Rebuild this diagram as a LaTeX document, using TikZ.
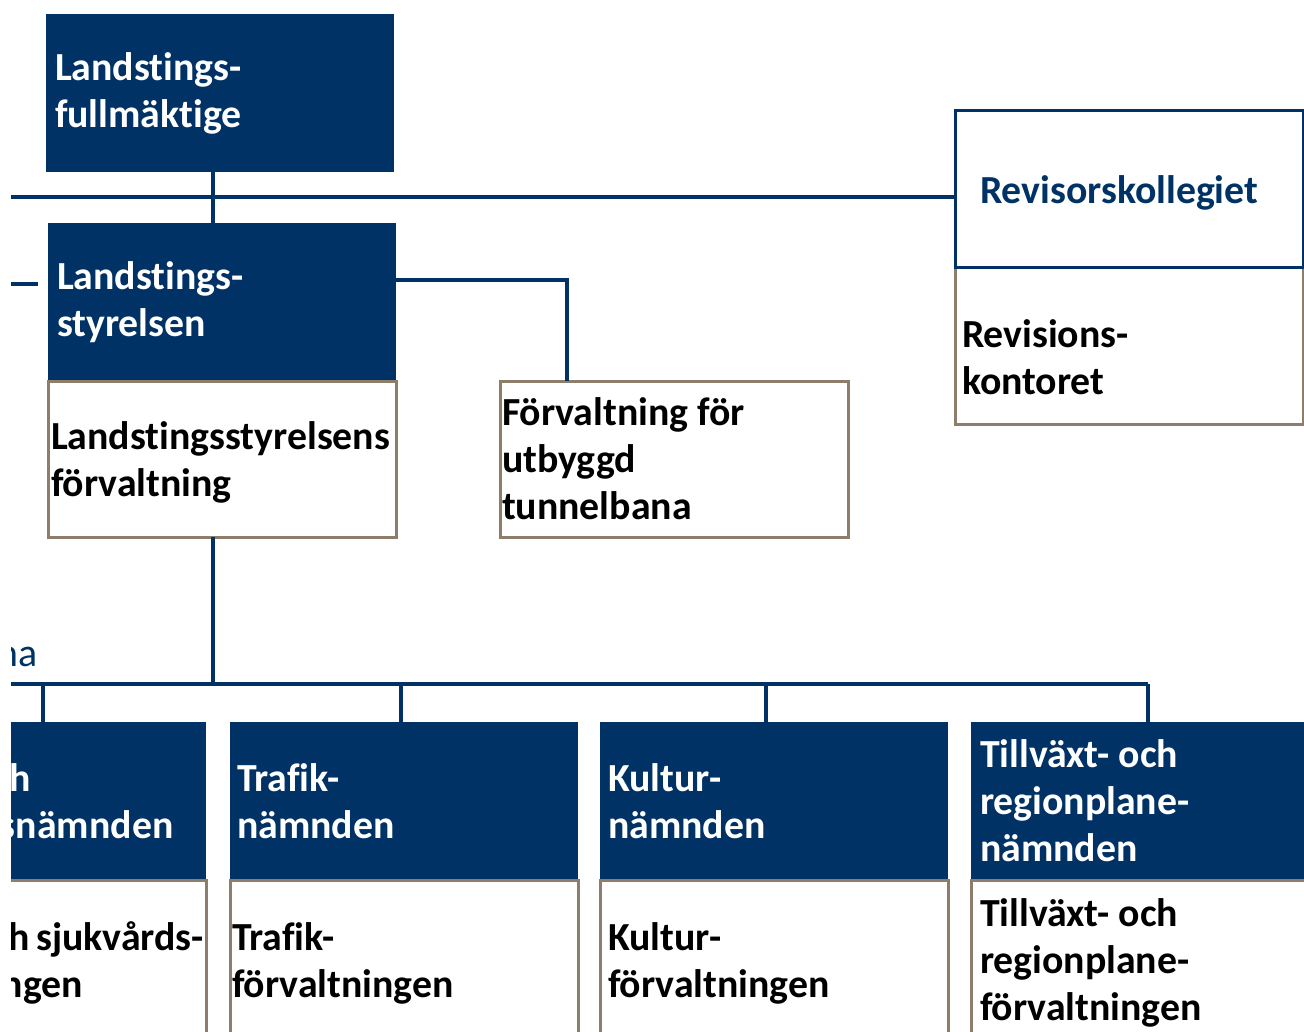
\documentclass[tikz,border=0pt]{standalone}
\usepackage{fontspec}
\setmainfont{Carlito}[Ligatures=NoCommon]
\usetikzlibrary{positioning}
\definecolor{sllblue}{RGB}{0,50,101}
\definecolor{frame}{RGB}{141,126,107}
\hyphenpenalty=10000
\exhyphenpenalty=10000

\begin{document}
\begin{tikzpicture}[x=1pt,y=-1pt,
font=\fontsize{39.8}{47}\selectfont\bfseries,
unit/.style={rectangle, inner sep=0pt, outer sep=0pt, minimum width=348pt, align=left, text width=330pt,
  execute at begin node={\spaceskip=0pt\xspaceskip=0pt\relax}},
board/.style={unit, fill=sllblue, text=white, minimum height=158pt},
office/.style={unit, draw=frame, line width=3pt, fill=white, minimum height=156pt},
lower/.style={office, minimum height=166pt},
audit/.style={unit, draw=sllblue, line width=3pt, fill=white, text=sllblue, minimum height=157pt},
link/.style={draw=sllblue, line width=3.5pt}]

\useasboundingbox (0,0) rectangle (1304,1032);
\clip (11,0) rectangle (1304,1032);

\node[board, anchor=north west] (lf) at (46,14) {Landstings-\\fullmäktige};
\node[board, anchor=north west] (ls) at (48,223) {Landstings-\\styrelsen};
\node[office, below=0pt of ls, text width=342pt, text height=35.5pt] (lsf) {Landstingsstyrelsens\\förvaltning};
\node[office, anchor=north west, text width=344pt] (tb) at (500,381) {Förvaltning för\\utbyggd\\tunnelbana};

\node[office, anchor=north west, text width=334pt, text height=51pt] (rko) at (955,268) {Revisions-\\kontoret};
\node[audit, above=0pt of rko, text width=298pt, text height=35.5pt] (rk) {Revisorskollegiet};

\node[font=\fontsize{39.8}{47}\selectfont, text=sllblue, inner sep=0pt, anchor=base east] (tbl) at (38,666) {na};

\node[board, anchor=north west] (hsn) at (-142,722) {\hspace*{143pt}h\\\hspace*{133pt}snämnden};
\node[lower, below=0pt of hsn] (hsf) {\hspace*{142pt}h~sjukvårds-\\\hspace*{135pt}ngen};
\node[board, anchor=north west, text width=334pt] (tn) at (230,722) {Trafik-\\nämnden};
\node[lower, below=0pt of tn, text width=344pt] (tf) {Trafik-\\förvaltningen};
\node[board, anchor=north west, text width=332pt] (kn) at (600,722) {Kultur-\\nämnden};
\node[lower, below=0pt of kn, text width=332pt] (kf) {Kultur-\\förvaltningen};
\node[board, anchor=north west] (tr) at (971,722) {Tillväxt- och\\regionplane-\\nämnden};
\node[lower, below=0pt of tr] (trf) {Tillväxt- och\\regionplane-\\förvaltningen};
%
\draw[link] ([xshift=-7pt]lf.south) -- ([xshift=-7pt]lf.south |- ls.north);
\draw[link] ([yshift=-7.5pt]rk.west) -- ++(-960,0);
\draw[link] ([xshift=-10pt,yshift=18pt]ls.west) -- ++(-40,0);
\draw[link] ([yshift=22pt]ls.east) -| ([xshift=-107pt]tb.north);
\draw[link] ([xshift=-9pt]lsf.south) -- ++(0,147) coordinate (bus);
\draw[link] ([xshift=3pt]tr.north |- bus) -- ++(-1200,0);
\foreach \n/\s in {hsn/11,tn/-3,kn/-8,tr/3}
  \draw[link] ([xshift=\s pt]\n.north) -- ([xshift=\s pt]\n.north |- bus);
\end{tikzpicture}
\end{document}
